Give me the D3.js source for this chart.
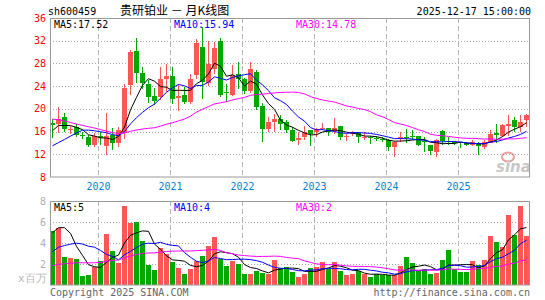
<!DOCTYPE html>
<html>
<head>
<meta charset="utf-8">
<title>sh600459 月K线图</title>
<script src="https://cdn.jsdelivr.net/npm/d3@7"></script>
<style>
body { margin: 0; background: #fff; }
text { font-family: "DejaVu Sans Mono", "Liberation Mono", monospace; font-size: 10px; }
</style>
</head>
<body>
<script>

var w = 545, h = 300,
    left = 50, right = 530,
    priceTop = 18, priceBottom = 177,
    volTop = 201, volBottom = 285;

// monthly bars, May 2019 .. Dec 2025
var months = d3.timeMonth.range(new Date(2019, 4, 1), new Date(2026, 0, 1));

var open = [17.5, 17.4, 18.55, 16.2, 16.8, 15.35, 15.05, 13.7, 15.3, 13.5, 15.45, 13.9,
  16.0, 24.2, 30.25, 26.4, 24.4, 22.3, 22.05, 25.2, 25.76, 21.9, 22.5, 21.2,
  25.9, 30.9, 24.5, 27.05, 31.9, 23.0, 22.5, 26.2, 25.3, 23.2, 26.5, 20.5,
  16.5, 17.6, 18.2, 17.6, 16.3, 14.45, 15.0, 16.2, 15.9, 16.6, 16.7, 16.1,
  16.9, 15.0, 15.6, 15.8, 14.85, 15.05, 14.8, 14.7, 14.6, 13.3, 14.9, 15.1,
  15.3, 15.15, 14.3, 13.55, 12.4, 16.1, 14.0, 14.2, 14.1, 14.0, 13.6, 14.0,
  13.2, 14.0, 15.7, 15.15, 17.0, 18.1, 16.8, 18.1];
var high = [18.3, 20.3, 19.25, 17.0, 17.4, 15.9, 15.45, 15.8, 16.0, 19.2, 16.7, 16.8,
  24.3, 30.4, 32.4, 27.3, 25.1, 23.6, 27.4, 27.9, 27.35, 24.4, 23.8, 26.2,
  32.35, 34.4, 31.9, 31.7, 32.4, 24.4, 27.7, 28.2, 25.5, 28.2, 26.9, 20.95,
  18.6, 19.1, 18.9, 18.05, 16.8, 15.9, 16.9, 16.3, 16.6, 17.5, 16.7, 18.4,
  16.9, 15.6, 16.1, 15.9, 15.9, 15.3, 15.2, 15.0, 14.7, 14.3, 16.0, 16.5,
  16.2, 15.15, 15.0, 13.6, 14.7, 16.3, 15.0, 14.4, 14.15, 14.15, 14.45, 14.15,
  14.55, 16.2, 17.4, 17.4, 19.0, 18.65, 19.0, 19.1];
var low = [14.9, 15.7, 15.9, 15.5, 15.0, 14.7, 13.3, 13.3, 13.7, 11.95, 12.8, 13.3,
  14.7, 22.5, 24.6, 23.5, 21.0, 20.7, 21.6, 23.0, 20.9, 19.7, 20.9, 20.9,
  25.3, 21.8, 24.0, 26.2, 22.1, 21.2, 22.3, 23.5, 22.6, 22.8, 19.8, 14.2,
  15.9, 16.0, 16.3, 15.8, 14.2, 13.6, 14.6, 13.4, 15.0, 16.2, 15.2, 15.5,
  14.6, 14.3, 15.3, 13.9, 14.6, 13.85, 14.3, 14.1, 12.6, 11.6, 14.1, 14.0,
  14.45, 13.4, 12.4, 11.8, 11.5, 13.6, 13.6, 13.6, 13.15, 13.4, 13.4, 11.8,
  13.0, 13.9, 13.9, 15.0, 15.3, 15.9, 15.9, 16.8];
var close = [17.2, 18.2, 16.45, 16.4, 15.45, 15.2, 13.7, 15.3, 14.8, 15.3, 13.9, 16.3,
  23.6, 29.95, 26.4, 24.5, 22.1, 21.4, 25.2, 25.8, 21.65, 22.35, 21.2, 25.3,
  31.65, 24.7, 27.9, 30.7, 22.5, 22.9, 26.0, 25.3, 23.2, 27.0, 20.3, 16.5,
  17.6, 18.2, 17.4, 16.2, 14.4, 14.9, 15.9, 15.6, 16.5, 16.7, 15.9, 16.7,
  15.0, 15.2, 15.75, 15.1, 15.0, 14.95, 14.7, 14.5, 13.3, 14.1, 15.05, 14.95,
  15.2, 13.7, 14.15, 12.6, 14.55, 14.3, 13.9, 14.1, 13.95, 13.6, 14.15, 13.4,
  14.15, 15.5, 15.4, 17.1, 17.3, 16.8, 17.65, 19.0];
// volume, x 百万
var volume = [5.14, 5.46, 2.7, 2.6, 2.48, 0.89, 0.98, 1.75, 2.29, 4.86, 3.24, 2.13,
  7.52, 5.94, 6.0, 4.19, 1.9, 1.43, 3.49, 2.92, 2.22, 1.65, 1.05, 1.52,
  2.29, 2.79, 3.71, 4.57, 2.48, 1.84, 2.32, 2.0, 1.08, 1.08, 1.37, 1.17,
  1.08, 2.38, 1.59, 1.75, 1.27, 0.79, 1.08, 1.65, 1.7, 2.2, 1.5, 2.2,
  1.35, 0.95, 1.05, 1.3, 1.02, 0.79, 1.02, 0.95, 0.95, 0.95, 1.84, 2.7,
  2.13, 1.33, 1.52, 1.08, 1.17, 2.38, 3.33, 1.49, 1.27, 1.27, 2.29, 1.9,
  2.38, 4.7, 4.13, 3.65, 6.67, 4.76, 7.56, 4.7];

// months before the window, only feed the moving averages at the left edge
var priorClose = [22, 23, 24, 23.5, 22.5, 21, 22, 23, 23, 22, 21.5,
  21, 20.5, 20, 19, 18.5, 18, 17, 15.5, 14,
  12.5, 11, 10.5, 10, 10.25, 13.5, 16.5, 16.5, 17];
var priorVolume = [1.5, 1.3, 1.2, 1.0, 0.9, 1.1, 1.4, 1.6, 1.3, 1.0, 0.9, 1.0,
  1.2, 1.3, 1.1, 0.9, 1.0, 1.2, 1.3, 1.3, 1.2, 1.1, 1.3, 1.5, 1.7,
  3.06, 2.7, 5.3, 8.7];

var priceTicks = [8, 12, 16, 20, 24, 28, 32, 36],
    volTicks = [2, 4, 6, 8],
    yearLabels = ["2020", "2021", "2022", "2023", "2024", "2025"],
    maPeriods = [5, 10, 30],
    maColors = ["#000", "#0000ff", "#ff00ff"],
    priceMaText = ["17.52", "15.94", "14.78"],
    volMaText = ["5", "4", "2"];

var red = "#ff5555", green = "#00a800", gridColor = "#a8a8a8";

var svg = d3.select("body")
  .append("svg")
    .attr("width", w)
    .attr("height", h);

var x = d3.scaleBand()
    .domain(d3.range(months.length))
    .range([left, right - 1])
    .paddingInner(1 / 6)
    .paddingOuter(0);

var y = d3.scaleLinear().domain([8, 36]).range([priceBottom, priceTop]);
var yv = d3.scaleLinear().domain([0, 8]).range([volBottom, volTop]);

function cx(i) { return Math.round(x(i)) + 2.5; }
function isUp(i) { return close[i] >= open[i]; }

function movingAverage(prior, values, n) {
  var all = prior.concat(values), p = prior.length;
  return values.map(function(d, i) {
    return d3.mean(all.slice(p + i - n + 1, p + i + 1));
  });
}

svg.append("defs").selectAll("clipPath")
    .data([["clipPrice", priceTop, priceBottom], ["clipVol", volTop, volBottom]])
  .enter().append("clipPath")
    .attr("id", function(d) { return d[0]; })
  .append("rect")
    .attr("x", left)
    .attr("y", function(d) { return d[1]; })
    .attr("width", right - left)
    .attr("height", function(d) { return d[2] - d[1]; });

// horizontal grid
svg.append("g").selectAll("line")
    .data(priceTicks.slice(1, -1))
  .enter().append("line")
    .attr("x1", left).attr("x2", right - 1)
    .attr("y1", function(d) { return Math.round(y(d)) + 0.5; })
    .attr("y2", function(d) { return Math.round(y(d)) + 0.5; })
    .attr("stroke", gridColor)
    .attr("stroke-dasharray", "1,2");

svg.append("g").selectAll("line")
    .data(volTicks.slice(0, -1))
  .enter().append("line")
    .attr("x1", left).attr("x2", right - 1)
    .attr("y1", function(d) { return Math.round(yv(d)) + 0.5; })
    .attr("y2", function(d) { return Math.round(yv(d)) + 0.5; })
    .attr("stroke", gridColor)
    .attr("stroke-dasharray", "1,2");

// year separators
var yearIndex = yearLabels.map(function(yr) {
  return months.findIndex(function(m) { return m.getFullYear() === +yr && m.getMonth() === 0; });
});

[[priceTop, priceBottom], [volTop, volBottom]].forEach(function(r) {
  svg.append("g").selectAll("line")
      .data(yearIndex)
    .enter().append("line")
      .attr("x1", function(i) { return Math.round(x(i)) + 0.5; })
      .attr("x2", function(i) { return Math.round(x(i)) + 0.5; })
      .attr("y1", r[0]).attr("y2", r[1])
      .attr("stroke", "#b4b4b4")
      .attr("stroke-dasharray", "5,3");
});

// sina watermark
var logo = svg.append("g").attr("opacity", 0.55);
logo.append("ellipse")
    .attr("cx", 508).attr("cy", 157).attr("rx", 6).attr("ry", 4.5)
    .attr("fill", "none").attr("stroke", "#e05050").attr("stroke-width", 2);
logo.append("text")
    .attr("x", 496).attr("y", 172)
    .attr("fill", "#9a9a9a")
    .style("font-family", "'DejaVu Sans', sans-serif")
    .style("font-size", "15px")
    .style("font-style", "italic")
    .style("font-weight", "bold")
    .text("sina");

// candles
var candles = svg.append("g").attr("shape-rendering", "crispEdges");

candles.selectAll("line")
    .data(d3.range(months.length))
  .enter().append("line")
    .attr("x1", cx).attr("x2", cx)
    .attr("y1", function(i) { return y(high[i]); })
    .attr("y2", function(i) { return y(low[i]); })
    .attr("stroke", function(i) { return isUp(i) ? red : green; });

candles.selectAll("rect")
    .data(d3.range(months.length))
  .enter().append("rect")
    .attr("x", function(i) { return Math.round(x(i)); })
    .attr("width", x.bandwidth())
    .attr("y", function(i) { return y(Math.max(open[i], close[i])); })
    .attr("height", function(i) { return Math.max(1, Math.abs(y(open[i]) - y(close[i]))); })
    .attr("fill", function(i) { return isUp(i) ? red : green; });

// volume bars
svg.append("g").attr("shape-rendering", "crispEdges").selectAll("rect")
    .data(d3.range(months.length))
  .enter().append("rect")
    .attr("x", function(i) { return Math.round(x(i)); })
    .attr("width", x.bandwidth())
    .attr("y", function(i) { return yv(volume[i]); })
    .attr("height", function(i) { return yv(0) - yv(volume[i]); })
    .attr("fill", function(i) { return isUp(i) ? red : green; });

// moving averages
maPeriods.forEach(function(n, k) {
  var pm = movingAverage(priorClose, close, n),
      vm = movingAverage(priorVolume, volume, n);
  svg.append("path")
      .datum(pm)
      .attr("clip-path", "url(#clipPrice)")
      .attr("fill", "none")
      .attr("stroke", maColors[k])
      .attr("d", d3.line().x(function(d, i) { return cx(i); }).y(y));
  svg.append("path")
      .datum(vm)
      .attr("clip-path", "url(#clipVol)")
      .attr("fill", "none")
      .attr("stroke", maColors[k])
      .attr("d", d3.line().x(function(d, i) { return cx(i); }).y(yv));
});

// frames
[[priceTop, priceBottom], [volTop, volBottom]].forEach(function(r) {
  svg.append("rect")
      .attr("x", left + 0.5).attr("y", r[0] + 0.5)
      .attr("width", right - left - 1).attr("height", r[1] - r[0] - 0.5)
      .attr("fill", "none")
      .attr("stroke", "#999");
});

// axis labels
svg.append("g").selectAll("text")
    .data(priceTicks)
  .enter().append("text")
    .attr("x", 46).attr("y", y)
    .attr("dy", "0.35em")
    .attr("text-anchor", "end")
    .attr("fill", "#ff0000")
    .text(function(d) { return d; });

svg.append("g").selectAll("text")
    .data(volTicks)
  .enter().append("text")
    .attr("x", 46).attr("y", yv)
    .attr("dy", "0.35em")
    .attr("text-anchor", "end")
    .attr("fill", "#b0b0b0")
    .text(function(d) { return d; });

svg.append("text")
    .attr("x", 18).attr("y", 282)
    .attr("fill", "#b8b8b8")
    .style("font-size", "11px")
    .text("x百万");

svg.append("g").selectAll("text")
    .data(yearIndex)
  .enter().append("text")
    .attr("x", function(i) { return Math.round(x(i)) + 0.5; })
    .attr("y", 190)
    .attr("text-anchor", "middle")
    .attr("fill", "#0a7fc8")
    .text(function(i, k) { return yearLabels[k]; });

// legends
var legendX = [54, 174, 296];
maPeriods.forEach(function(n, k) {
  svg.append("text")
      .attr("x", legendX[k]).attr("y", 28)
      .attr("fill", maColors[k])
      .text("MA" + n + ":" + priceMaText[k]);
  svg.append("text")
      .attr("x", legendX[k]).attr("y", 211)
      .attr("fill", maColors[k])
      .text("MA" + n + ":" + volMaText[k]);
});

// header and footer
svg.append("text")
    .attr("x", 48).attr("y", 15)
    .text("sh600459");

svg.append("text")
    .attr("x", 120).attr("y", 15)
    .style("font-family", "'Noto Sans CJK SC', sans-serif")
    .style("font-size", "12px")
    .text("贵研铂业 － 月K线图");

svg.append("text")
    .attr("x", 531).attr("y", 15)
    .attr("text-anchor", "end")
    .text("2025-12-17 15:00:00");

svg.append("text")
    .attr("x", 50).attr("y", 296)
    .attr("fill", "#666")
    .text("Copyright 2025 SINA.COM");

svg.append("text")
    .attr("x", 530).attr("y", 296)
    .attr("text-anchor", "end")
    .attr("fill", "#666")
    .text("http://finance.sina.com.cn");

</script>
</body>
</html>
